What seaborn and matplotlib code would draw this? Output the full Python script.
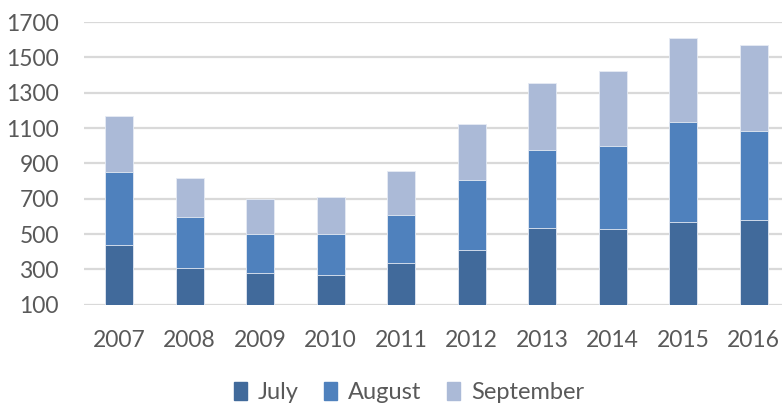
import numpy as np
import pandas as pd
import matplotlib
matplotlib.use("Agg")
import matplotlib.pyplot as plt
import seaborn as sns

# Datos
years = ["2007", "2008", "2009", "2010", "2011", "2012", "2013", "2014", "2015", "2016"]
july = [440, 309, 281, 270, 334, 408, 536, 527, 566, 578]
august = [411, 287, 219, 230, 275, 398, 440, 473, 568, 505]
september = [319, 221, 197, 208, 246, 317, 377, 424, 474, 489]

series = ["July", "August", "September"]
colors = ["#416A9B", "#4F81BD", "#ABBAD7"]
text_color = "#595959"

df = pd.DataFrame({"year": years, "July": july, "August": august, "September": september})
# acumulados para apilar
df["c_july"] = df["July"]
df["c_august"] = df["July"] + df["August"]
df["c_september"] = df["c_august"] + df["September"]

sns.set_style("white")
plt.rcParams["font.family"] = ["Lato", "DejaVu Sans"]

fig = plt.figure(figsize=(7.82, 4.09), dpi=100)
ax = fig.add_axes([0.1074, 0.255, 0.9015, 0.691])

for col, color in zip(["c_september", "c_august", "c_july"], colors[::-1]):
    sns.barplot(data=df, x="year", y=col, color=color, width=0.393,
                edgecolor="#E6EBF4", linewidth=0.6, ax=ax, saturation=1, zorder=3)

ax.set_ylim(100, 1700)
ax.set_xlim(-0.5, 9.5)
ax.set_yticks(np.arange(100, 1701, 200))
ax.yaxis.grid(True, color="#D9D9D9", linewidth=1.6, zorder=0)
ax.set_axisbelow(True)
for s in ax.spines.values():
    s.set_visible(False)
ax.set_xlabel("")
ax.set_ylabel("")
ax.tick_params(axis="y", length=0, pad=18, labelsize=16.5, labelcolor=text_color)
ax.tick_params(axis="x", length=0, pad=18.5, labelsize=16.5, labelcolor=text_color)

handles = [plt.Rectangle((0, 0), 1, 1, color=c) for c in colors]
fig.legend(handles, series, loc="center", bbox_to_anchor=(0.523, 0.04), ncol=3,
           frameon=False, fontsize=17, labelcolor=text_color,
           handlelength=0.55, handleheight=0.75, handletextpad=0.45, columnspacing=1.1,
           borderpad=0.1)

fig.savefig("out.png", dpi=100)
